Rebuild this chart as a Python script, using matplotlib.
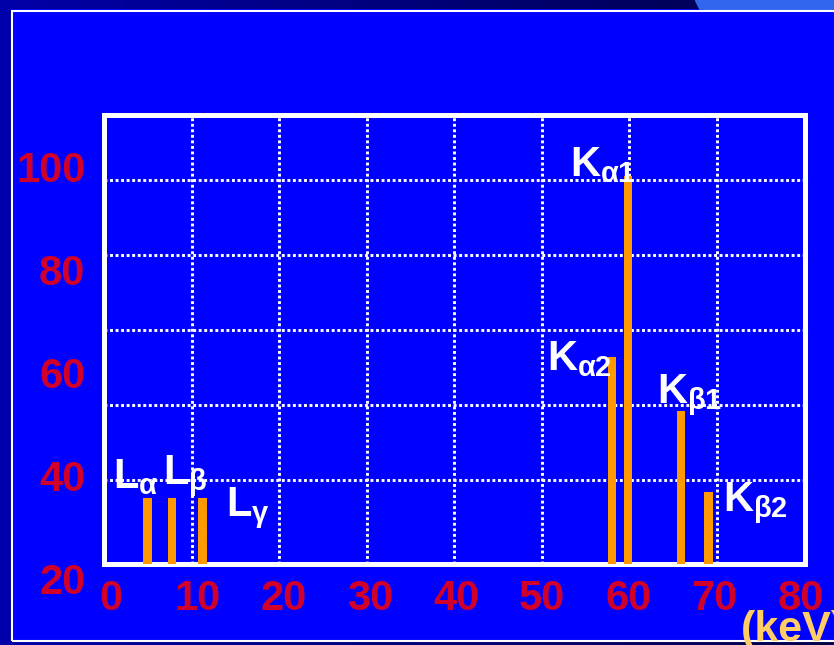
import matplotlib.pyplot as plt
import numpy as np
from matplotlib.patches import Rectangle, Polygon
from matplotlib.colors import LinearSegmentedColormap

plt.rcParams['font.family'] = ['Liberation Sans', 'DejaVu Sans']
plt.rcParams['font.weight'] = 'bold'
plt.rcParams['mathtext.fontset'] = 'custom'
plt.rcParams['mathtext.rm'] = 'Liberation Sans:bold'
plt.rcParams['mathtext.it'] = 'Liberation Sans:bold'
plt.rcParams['mathtext.bf'] = 'Liberation Sans:bold'

# X-ray emission lines: energy (keV) and relative intensity
line_names = [r'$L_{\alpha}$', r'$L_{\beta}$', r'$L_{\gamma}$',
              r'$K_{\alpha 2}$', r'$K_{\alpha 1}$', r'$K_{\beta 1}$', r'$K_{\beta 2}$']
energies = [4.97, 7.79, 11.25, 57.99, 59.84, 65.9, 69.03]
intensities = [15.1, 15.1, 15.1, 52.7, 101.1, 38.4, 16.9]

x_ticks = [0, 10, 20, 30, 40, 50, 60, 70, 80]
y_ticks = [20, 40, 60, 80, 100]

# where each line name sits (energy, intensity coordinates)
label_pos = [(1.03, 17.9), (6.77, 18.9), (13.9, 10.4),
             (50.6, 49.3), (53.2, 100.9), (63.2, 40.4), (70.7, 11.8)]

W, H = 834, 645
BLUE = '#0000FF'
RED = '#D0002A'
ORANGE = '#FF9900'


def fx(px):
    return px / W


def fy(py):
    return (H - py) / H


fig = plt.figure(figsize=(W / 100, H / 100), dpi=100, facecolor=BLUE)

# slide frame: dark left strip, gradient bands top and bottom, thin white border
fig.patches.append(Rectangle((0, 0), fx(10.5), 1, transform=fig.transFigure,
                             color='#0000AA', zorder=0))
band_cmap = LinearSegmentedColormap.from_list('band', ['#0000A8', '#00004A'])
grad = np.linspace(0, 1, 256).reshape(1, -1)
for top, h in [(0, 9.5), (642, 3)]:
    bax = fig.add_axes([0, fy(top + h), 1, h / H])
    bax.imshow(grad, cmap=band_cmap, aspect='auto', extent=(0, W, h, 0))
    if top == 0:
        bax.add_patch(Polygon([(695, 0), (W, 0), (W, h), (700, h)],
                              closed=True, color='#3366EE'))
    bax.set_xlim(0, W)
    bax.set_ylim(h, 0)
    bax.axis('off')
fig.patches.append(Rectangle((fx(11.8), fy(640.5)), 1, fy(10.8) - fy(640.5),
                             transform=fig.transFigure, fill=False,
                             edgecolor='white', linewidth=1.5, zorder=1))

# plot area
ax = fig.add_axes([fx(104), fy(564), (804.5 - 104) / W, (564 - 115) / H])
ax.set_facecolor(BLUE)
y_min, y_max = -2.4, 117.3
ax.set_xlim(0, 80)
ax.set_ylim(y_min, y_max)
ax.set_xticks(range(10, 80, 10))
ax.set_yticks(y_ticks)
ax.tick_params(length=0, labelbottom=False, labelleft=False)
ax.grid(True, color='white', linestyle=(0, (1, 0.9)), linewidth=2.1)
ax.set_axisbelow(True)
for s in ax.spines.values():
    s.set_color('white')
    s.set_linewidth(3.6)

ax.bar(energies, [v - y_min for v in intensities], bottom=y_min, width=0.95,
       color=ORANGE, zorder=3)

for name, (lx, ly) in zip(line_names, label_pos):
    ax.text(lx, ly, name, color='white', fontsize=30, ha='left',
            va='baseline', zorder=4)

# axis numbering on its own transparent frame
lab = fig.add_axes([fx(111), fy(578), (801 - 111) / W, (578 - 167) / H])
lab.patch.set_visible(False)
for s in lab.spines.values():
    s.set_visible(False)
lab.set_xlim(0, 80)
lab.set_ylim(20, 100)
lab.set_xticks(x_ticks)
lab.set_yticks(y_ticks)
lab.tick_params(axis='x', length=0, pad=1, labelsize=30, labelcolor=RED)
lab.tick_params(axis='y', length=0, pad=18.5, labelsize=30, labelcolor=RED)
for t in lab.get_xticklabels() + lab.get_yticklabels():
    t.set_fontweight('bold')

# unit label runs off the right edge of the slide
fig.text(fx(741), fy(641), '(keV)', color='#FFCC66', fontsize=31,
         fontweight='bold', ha='left', va='baseline', zorder=5)

fig.savefig('out.png', dpi=100, facecolor=fig.get_facecolor())
